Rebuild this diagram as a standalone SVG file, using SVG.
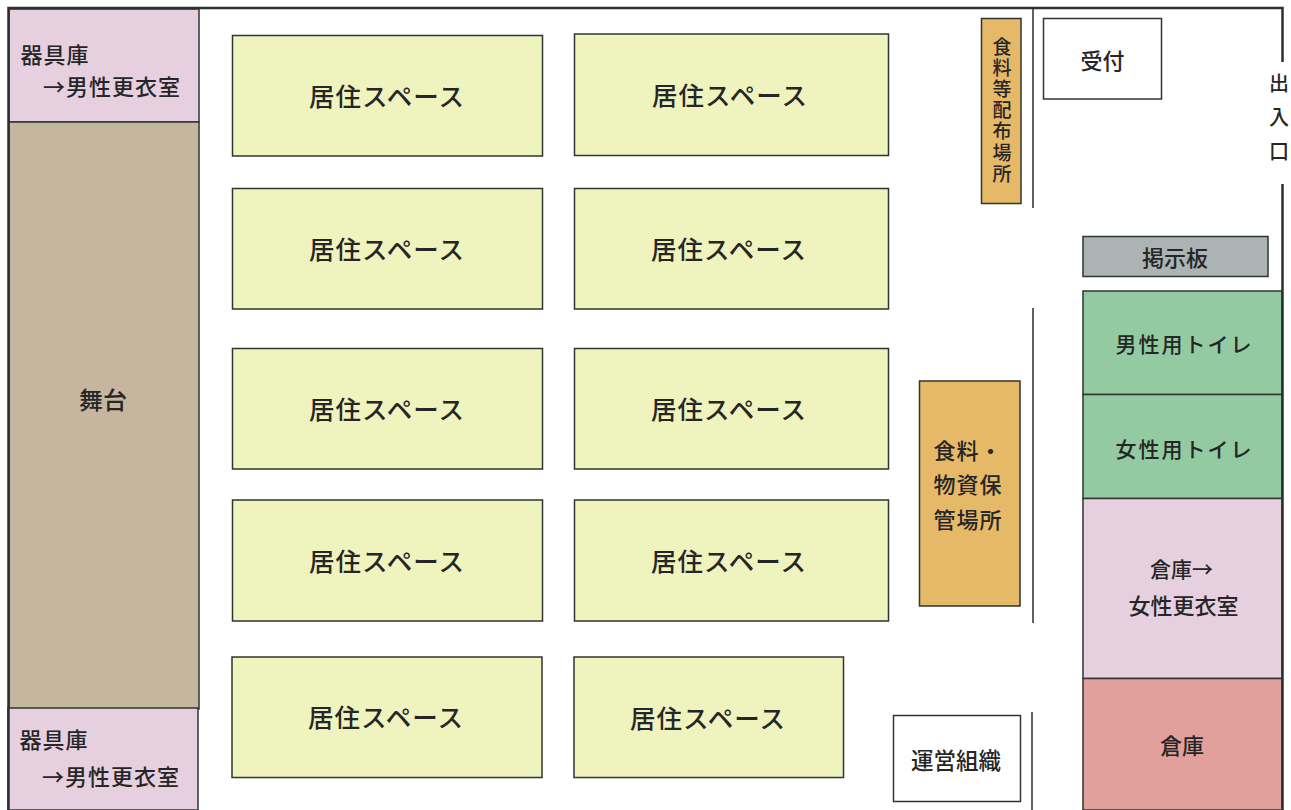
<svg xmlns="http://www.w3.org/2000/svg" width="1291" height="810" viewBox="0 0 1291 810">
<style>
text{font-family:"Noto Sans CJK JP","Noto Sans",sans-serif;font-weight:500;fill:#262626;text-anchor:middle;dominant-baseline:central}
.r{stroke:#2f3530;stroke-width:1.5}
.l{fill:none;stroke:#2b312d}
.y{fill:#eff4bf}.p{fill:#e6d0e0}.g{fill:#93caa1}
.a{font-size:25.500px;letter-spacing:1px}
.b{font-size:22px;letter-spacing:1px}
.c{font-size:22px}
.t{font-size:21px;letter-spacing:2px}
.v{writing-mode:vertical-rl;text-orientation:upright}
.w{fill:#fff}
</style>
<rect width="1291" height="810" fill="#fff"/>
<g id="storage-top"><rect class="r p" x="9" y="9" width="190" height="113"/><text class="b" x="55" y="53">器具庫</text><text class="b" x="112" y="85">→男性更衣室</text></g>
<g id="stage"><rect class="r" fill="#c6b69f" x="9" y="122" width="190" height="587"/><text x="103" y="398" style="font-size:24px">舞台</text></g>
<g id="storage-bottom"><rect class="r p" x="8" y="708" width="190" height="102"/><text class="b" x="54" y="737.500">器具庫</text><text class="b" x="111" y="775">→男性更衣室</text></g>
<g id="living-1"><rect class="r y" x="232.500" y="35.500" width="310" height="120.500"/><text class="a" x="387" y="94">居住スペース</text></g>
<g id="living-2"><rect class="r y" x="574.500" y="34" width="314" height="121.500"/><text class="a" x="730" y="93">居住スペース</text></g>
<g id="living-3"><rect class="r y" x="232.500" y="188.500" width="310" height="120.500"/><text class="a" x="387" y="247">居住スペース</text></g>
<g id="living-4"><rect class="r y" x="574.500" y="188.500" width="314" height="120.500"/><text class="a" x="729" y="247">居住スペース</text></g>
<g id="living-5"><rect class="r y" x="232.500" y="348.500" width="310" height="120.500"/><text class="a" x="387" y="407">居住スペース</text></g>
<g id="living-6"><rect class="r y" x="574.500" y="348.500" width="314" height="120.500"/><text class="a" x="729" y="407">居住スペース</text></g>
<g id="living-7"><rect class="r y" x="232.500" y="500" width="310" height="121"/><text class="a" x="387" y="559">居住スペース</text></g>
<g id="living-8"><rect class="r y" x="574.500" y="500" width="314" height="121"/><text class="a" x="729" y="559">居住スペース</text></g>
<g id="living-9"><rect class="r y" x="232" y="657" width="310" height="120.500"/><text class="a" x="386" y="715">居住スペース</text></g>
<g id="living-10"><rect class="r y" x="574" y="657" width="269.500" height="120.500"/><text class="a" x="708" y="716">居住スペース</text></g>
<g id="food-dist"><rect class="r" fill="#e6b968" x="981.500" y="18.500" width="39.500" height="185"/><text class="v" x="1002" y="111" style="font-size:19px;letter-spacing:2.200px">食料等配布場所</text></g>
<g id="food-store"><rect class="r" fill="#e6b968" x="919.500" y="381" width="100.500" height="225"/><text class="b" x="968" y="449">食料・</text><text class="b" x="968" y="483">物資保</text><text class="b" x="968" y="518">管場所</text></g>
<g id="reception"><rect class="r w" x="1043.500" y="18.500" width="118" height="80.500"/><text class="c" x="1102.500" y="59">受付</text></g>
<g id="board"><rect class="r" fill="#abb3b3" x="1083" y="236.500" width="185" height="40"/><text class="c" x="1175" y="255.500">掲示板</text></g>
<g id="toilet-m"><rect class="r g" x="1083" y="291" width="199" height="103.500"/><text class="t" x="1184.500" y="343">男性用トイレ</text></g>
<g id="toilet-f"><rect class="r g" x="1083" y="394.500" width="199" height="104"/><text class="t" x="1184.500" y="448">女性用トイレ</text></g>
<g id="store-f"><rect class="r p" x="1083" y="498.500" width="199" height="180"/><text x="1181.500" y="568" style="font-size:21px">倉庫→</text><text class="c" x="1183.500" y="604">女性更衣室</text></g>
<g id="store"><rect class="r" fill="#e2a09d" x="1083" y="678.500" width="199" height="131.500"/><text class="c" x="1182" y="744">倉庫</text></g>
<g id="office"><rect class="r w" x="893.500" y="715.500" width="127" height="86"/><text x="956" y="759" style="font-size:22.500px">運営組織</text></g>
<g id="connectors">
<path class="l" stroke-width="2.500" d="M8.500 810V8H1282.500V62M1282.500 184V810"/>
<path class="l" stroke-width="1.500" d="M1033 8V208M1033 308V623M1032 712V810"/>
</g>
<g id="entrance"><text class="v" x="1279" y="124" style="font-size:20px;letter-spacing:14px">出入口</text></g>
</svg>
